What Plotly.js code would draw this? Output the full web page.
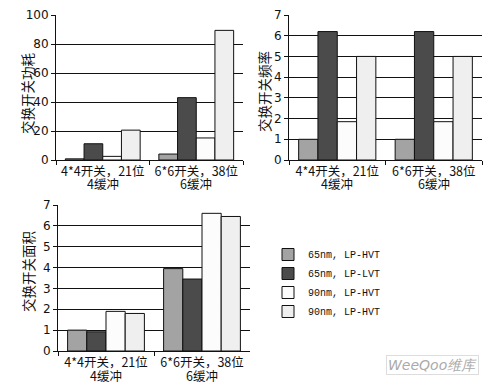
<!DOCTYPE html>
<html>
<head>
<meta charset="utf-8">
<script src="https://cdn.plot.ly/plotly-3.0.1.min.js"></script>
<style>html,body{margin:0;padding:0;background:#fff;}</style>
</head>
<body>
<div id="chart" style="width:487px;height:386px;"></div>
<script>
// Categories (x tick labels: first and second line)
var categories = ["4*4开关，21位", "6*6开关，38位"];
var categoryLine2 = ["4缓冲", "6缓冲"];
// Series names
var seriesNames = ["65nm, LP-HVT", "65nm, LP-LVT", "90nm, LP-HVT", "90nm, LP-HVT"];
// Chart 1: 交换开关功耗
var power_65HVT = [0.8, 4.1];
var power_65LVT = [11.2, 43];
var power_90HVT_a = [2.5, 15.2];
var power_90HVT_b = [20.6, 89.4];
// Chart 2: 交换开关频率
var freq_65HVT = [1, 1];
var freq_65LVT = [6.2, 6.2];
var freq_90HVT_a = [1.85, 1.85];
var freq_90HVT_b = [5, 5];
// Chart 3: 交换开关面积
var area_65HVT = [1.0, 3.95];
var area_65LVT = [0.92, 3.45];
var area_90HVT_a = [1.9, 6.6];
var area_90HVT_b = [1.8, 6.45];
// Axis titles
var yTitles = ["交换开关功耗", "交换开关频率", "交换开关面积"];
var watermark = "WeeQoo维库";

var colors = ["#a3a3a3", "#4b4b4b", "#fcfcfc", "#efefef"];

var datasets = [
  [power_65HVT, power_65LVT, power_90HVT_a, power_90HVT_b],
  [freq_65HVT, freq_65LVT, freq_90HVT_a, freq_90HVT_b],
  [area_65HVT, area_65LVT, area_90HVT_a, area_90HVT_b]
];
var axSuffix = ["", "2", "3"];

var traces = [];
datasets.forEach(function(ds, ci) {
  ds.forEach(function(vals, si) {
    traces.push({
      type: "bar",
      x: categories,
      y: vals,
      name: seriesNames[si],
      xaxis: "x" + axSuffix[ci],
      yaxis: "y" + axSuffix[ci],
      marker: {color: colors[si], line: {color: "#111", width: 1}},
      showlegend: ci === 2,
      legendgroup: "s" + si,
      hoverinfo: "y"
    });
  });
});

var tickFont = {family: "Noto Sans CJK SC, sans-serif", size: 12.5, color: "#111"};
function xa(dom, anchor) {
  return {domain: dom, anchor: anchor, showline: true, linecolor: "#111", linewidth: 1,
    ticks: "outside", tickson: "boundaries", ticklen: 4, tickcolor: "#111",
    tickangle: 0, automargin: false,
    tickfont: tickFont, showgrid: false, zeroline: false, fixedrange: true};
}
function ya(dom, anchor, range, dtick) {
  return {domain: dom, anchor: anchor, range: range, dtick: dtick, showline: true,
    linecolor: "#111", linewidth: 1, ticks: "outside", ticklen: 4, tickcolor: "#111",
    showgrid: true, gridcolor: "#111", gridwidth: 1, zeroline: false,
    tickfont: {family: "DejaVu Sans, sans-serif", size: 12, color: "#111"},
    fixedrange: true};
}

// y-axis titles as rotated text: [x px, y px]
var titlePos = [[27, 93], [264, 92], [28, 272]];
var annotations = yTitles.map(function(t, i) {
  return {text: t, xref: "paper", yref: "paper",
    x: titlePos[i][0] / 487, y: 1 - titlePos[i][1] / 386,
    xanchor: "center", yanchor: "middle", textangle: -90, showarrow: false,
    font: {family: "Noto Sans CJK SC, sans-serif", size: 13.5, color: "#111"}};
});
// second line of each category label, placed on the category position
var line2Y = [183, 183, 375];
axSuffix.forEach(function(s, ci) {
  categories.forEach(function(c, k) {
    annotations.push({text: categoryLine2[k], xref: "x" + s, yref: "paper",
      x: c, y: 1 - line2Y[ci] / 386, xanchor: "center", yanchor: "middle",
      showarrow: false, font: tickFont});
  });
});
annotations.push({
  text: "<i>" + watermark + "</i>", xref: "paper", yref: "paper",
  x: 432/487, y: 1 - 365/386, xanchor: "center", yanchor: "middle",
  showarrow: false, font: {family: "DejaVu Sans, sans-serif", size: 14, color: "#aaa"},
  bordercolor: "#ddd", borderwidth: 1, borderpad: 1, bgcolor: "#fff"
});

var layout = {
  width: 487, height: 386,
  margin: {l: 0, r: 0, t: 0, b: 0},
  paper_bgcolor: "#fff", plot_bgcolor: "#fff",
  barmode: "group", bargap: 0.2, bargroupgap: 0,
  font: {family: "Noto Sans CJK SC, sans-serif", color: "#111"},
  xaxis: xa([56/487, 243/487], "y"),
  yaxis: ya([1 - 160/386, 1 - 15/386], "x", [0, 100], 20),
  xaxis2: xa([289/487, 482/487], "y2"),
  yaxis2: ya([1 - 160/386, 1 - 15/386], "x2", [0, 7], 1),
  xaxis3: xa([58/487, 250/487], "y3"),
  yaxis3: ya([1 - 351/386, 1 - 205/386], "x3", [0, 7], 1),
  legend: {x: 268/487, y: 1 - 240/386, xanchor: "left", yanchor: "top",
    font: {family: "Liberation Mono, monospace", size: 10, color: "#111"},
    tracegroupgap: 0, bgcolor: "rgba(0,0,0,0)", itemwidth: 30},
  showlegend: true,
  annotations: annotations
};

Plotly.newPlot("chart", traces, layout, {displayModeBar: false, staticPlot: true});
</script>
</body>
</html>
